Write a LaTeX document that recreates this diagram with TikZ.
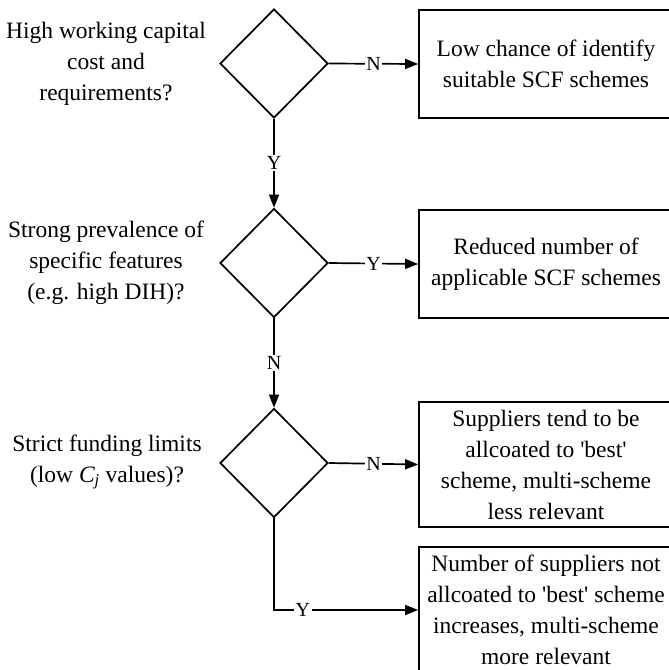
\documentclass[tikz,border=0pt]{standalone}
\usepackage{fontspec}
\setmainfont{Liberation Serif}
\usetikzlibrary{shapes.geometric}
\usetikzlibrary{arrows.meta}
\tikzstyle{decision}=[draw,diamond,line width=1.7pt,minimum width=108pt,minimum height=109pt,inner sep=0pt]
\tikzstyle{outcome}=[draw,rectangle,line width=1.7pt,minimum width=254pt,align=center,inner sep=0pt]
\tikzstyle{question}=[align=center]
\tikzstyle{flow}=[line width=1.7pt,-{Triangle[length=13pt,width=10pt]}]
\tikzstyle{answer}=[fill=white,inner sep=1.5pt,font=\fontsize{20}{20}\selectfont]
\newcommand{\q}{\textquotesingle} % straight quote as in the original

\begin{document}
\begin{tikzpicture}[x=1pt,y=-1pt,font=\fontsize{23.5}{31}\selectfont]
  \useasboundingbox (0,0) rectangle (669,670);
  % first question
  \node[decision] (capital) at (274,63.5) {};
  \node[question] (capitalq) at (106,63.5) {High working capital\\cost and\\requirements?};
  \node[outcome,minimum height=108pt] (lowchance) at (546,64) {Low chance of identify\\suitable SCF schemes};
  \draw[flow] (capital.east) -- node[answer] {N} (lowchance.west);
  % second question
  \node[decision] (features) at (274,263) {};
  \node[question] (featuresq) at (106,263) {Strong prevalence of\\specific features\\(e.g. high DIH)?};
  \node[outcome,minimum height=108pt] (reduced) at (546,264) {Reduced number of\\applicable SCF schemes};
  \draw[flow] (capital.south) -- node[answer] {Y} (features.north);
  \draw[flow] (features.east) -- node[answer] {Y} (reduced.west);
  % third question
  \node[decision] (funding) at (274,463) {};
  \node[question] (fundingq) at (107,462) {Strict funding limits\\(low {\itshape C}\textsubscript{\itshape j} values)?};
  \node[outcome,minimum height=125pt] (best) at (546,464.5) {Suppliers tend to be\\allcoated to \q best\q\\scheme, multi-scheme\\less relevant};
  \node[outcome,minimum height=126pt] (multi) at (546,610) {Number of suppliers not\\allcoated to \q best\q{} scheme\\increases, multi-scheme\\more relevant};
  \draw[flow] (features.south) -- node[answer] {N} (funding.north);
  \draw[flow] (funding.east) -- node[answer] {N} (best.west);
  \draw[flow] (funding.south) |- node[answer,pos=0.6] {Y} (multi.west);
\end{tikzpicture}
\end{document}
